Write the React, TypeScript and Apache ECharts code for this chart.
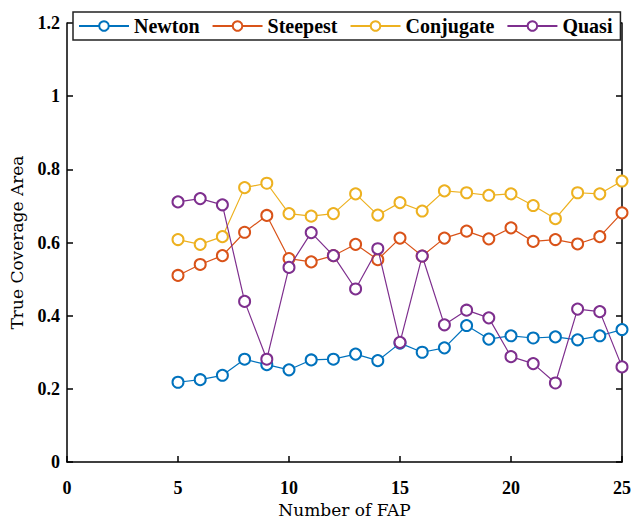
import React, { useEffect, useRef } from "react";
import * as echarts from "echarts";

const fapCounts = [5, 6, 7, 8, 9, 10, 11, 12, 13, 14, 15, 16, 17, 18, 19, 20, 21, 22, 23, 24, 25];
const newton = [0.218, 0.225, 0.237, 0.281, 0.266, 0.252, 0.279, 0.281, 0.295, 0.277, 0.325, 0.300, 0.312, 0.373, 0.336, 0.345, 0.339, 0.342, 0.334, 0.345, 0.362];
const steepest = [0.510, 0.540, 0.564, 0.628, 0.674, 0.556, 0.547, 0.564, 0.595, 0.553, 0.612, 0.563, 0.612, 0.631, 0.610, 0.640, 0.603, 0.608, 0.596, 0.616, 0.681];
const conjugate = [0.608, 0.595, 0.616, 0.750, 0.762, 0.679, 0.672, 0.679, 0.733, 0.675, 0.709, 0.686, 0.741, 0.736, 0.729, 0.733, 0.701, 0.665, 0.736, 0.733, 0.768];
const quasi = [0.711, 0.720, 0.703, 0.439, 0.281, 0.532, 0.627, 0.564, 0.473, 0.583, 0.327, 0.563, 0.375, 0.415, 0.394, 0.288, 0.269, 0.216, 0.418, 0.411, 0.260];

const seriesNames = ["Newton", "Steepest", "Conjugate", "Quasi"];
const seriesColors = ["#0072BD", "#D95319", "#EDB120", "#7E2F8E"];
const seriesData = [newton, steepest, conjugate, quasi];

const serif = "'Liberation Serif', 'Times New Roman', serif";
const wideSerif = "'DejaVu Serif', serif";

export default function App() {
  const ref = useRef<HTMLDivElement>(null);
  useEffect(() => {
    if (!ref.current) return;
    const chart = echarts.init(ref.current, null, { renderer: "svg" });
    const axisLine = { show: true, lineStyle: { color: "#000", width: 1.5 } };
    const axisTick = { show: true, inside: true, length: 6, lineStyle: { color: "#000", width: 1.5 } };
    chart.setOption({
      animation: false,
      backgroundColor: "#fff",
      grid: { left: 67, right: 18, top: 23, bottom: 58, outerBoundsMode: "none", containLabel: false },
      legend: {
        left: 73,
        top: 12,
        padding: [4, 8, 4, 5],
        itemWidth: 50,
        itemHeight: 12,
        itemGap: 12,
        borderColor: "#222",
        borderWidth: 1.5,
        backgroundColor: "#fff",
        data: seriesNames,
        textStyle: { fontFamily: serif, fontWeight: "bold", fontSize: 20, color: "#000" },
      },
      xAxis: {
        type: "value",
        min: 0,
        max: 25,
        interval: 5,
        name: "Number of FAP",
        nameLocation: "middle",
        nameGap: 39,
        nameTextStyle: { fontFamily: wideSerif, fontSize: 17, color: "#000" },
        axisLine,
        axisTick,
        splitLine: { show: false },
        axisLabel: { fontFamily: serif, fontWeight: "bold", fontSize: 18, color: "#000", margin: 17 },
      },
      yAxis: [
        {
          type: "value",
          min: 0,
          max: 1.2,
          interval: 0.2,
          name: "True Coverage Area",
          nameLocation: "middle",
          nameGap: 42,
          nameTextStyle: { fontFamily: wideSerif, fontSize: 17, color: "#000" },
          axisLine,
          axisTick,
          splitLine: { show: false },
          axisLabel: {
            fontFamily: serif,
            fontWeight: "bold",
            fontSize: 18,
            color: "#000",
            margin: 7,
            formatter: (v: number) => String(Math.round(v * 10) / 10),
          },
        },
        {
          type: "value",
          min: 0,
          max: 1.2,
          interval: 0.2,
          position: "right",
          axisLine,
          axisTick,
          splitLine: { show: false },
          axisLabel: { show: false },
        },
      ],
      series: seriesNames.map((name, i) => ({
        name,
        type: "line",
        data: fapCounts.map((x, j) => [x, seriesData[i][j]]),
        symbol: "emptyCircle",
        symbolSize: 11,
        color: seriesColors[i],
        lineStyle: { width: 1.2, color: seriesColors[i] },
        itemStyle: { color: seriesColors[i], borderColor: seriesColors[i], borderWidth: 1.5 },
        z: 2 + i,
      })),
    });
    return () => chart.dispose();
  }, []);
  return <div ref={ref} style={{ position: "fixed", left: 0, top: 0, width: 640, height: 520 }} />;
}
